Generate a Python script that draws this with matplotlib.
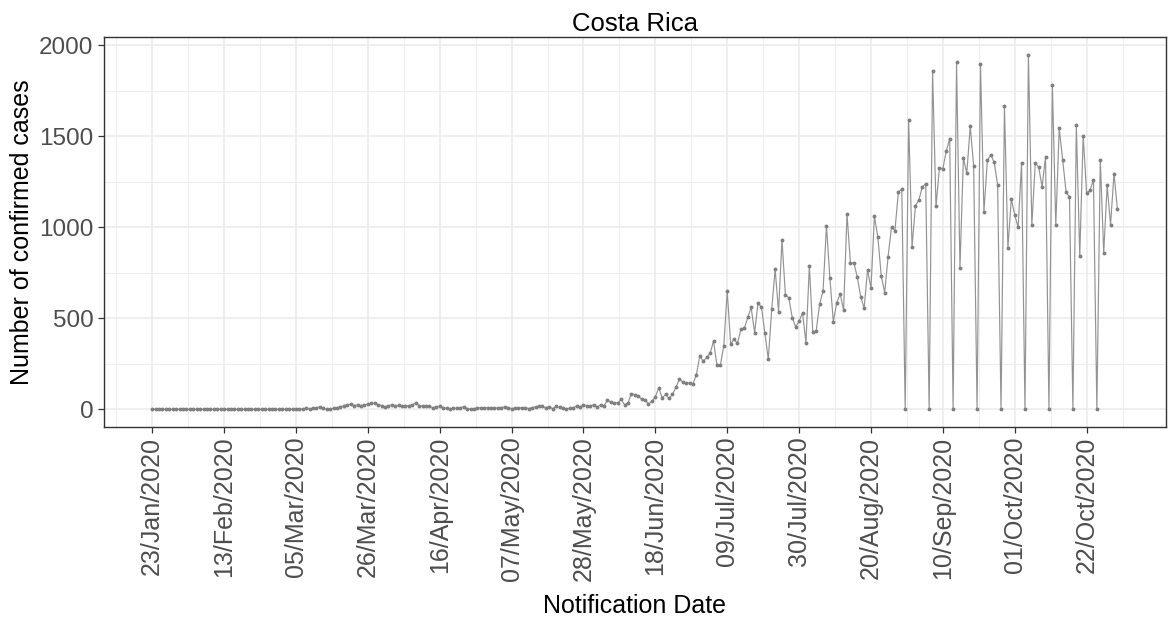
import pandas as pd
import matplotlib
matplotlib.use('Agg')
import matplotlib.pyplot as plt
import matplotlib.dates as mdates

plt.rcParams['font.family'] = ['Liberation Sans', 'DejaVu Sans']

# daily confirmed cases, one list per month (2020, starting 23 Jan)
jan = [0] * 9
feb = [0] * 29
mar = [0, 0, 0, 0, 0, 1, 2, 5, 4, 5, 9, 13, 5, 1, 2, 5, 9, 13, 20, 24,
       28, 20, 24, 20, 24, 28, 33, 32, 26, 20, 13]
apr = [20, 24, 20, 21, 19, 17, 20, 24, 37, 20, 17, 18, 16, 9, 13, 18, 9, 5, 4, 5,
       6, 9, 13, 4, 1, 4, 7, 9, 9, 9]
may = [9, 7, 7, 9, 13, 9, 4, 6, 7, 9, 9, 4, 9, 13, 16, 16, 9, 13, 4, 16,
       10, 5, 3, 5, 8, 18, 12, 25, 18, 20, 22]
jun = [12, 25, 18, 50, 38, 35, 35, 55, 25, 35, 86, 80, 75, 55, 52, 28, 45, 68, 119, 62,
       82, 60, 82, 120, 165, 150, 142, 146, 140, 191]
jul = [294, 264, 285, 307, 375, 242, 242, 349, 650, 358, 384, 362, 439, 444, 505, 560,
       420, 582, 564, 420, 275, 549, 770, 536, 931, 628, 613, 503, 453, 485, 530]
aug = [365, 788, 423, 431, 579, 650, 1008, 720, 481, 586, 634, 545, 1073, 803, 806, 726,
       619, 555, 766, 665, 1060, 949, 733, 641, 839, 1001, 982, 1192, 1212, 0, 1592]
sep = [894, 1118, 1152, 1221, 1240, 0, 1858, 1115, 1326, 1322, 1418, 1488, 0, 1908, 775,
       1381, 1298, 1555, 1339, 0, 1895, 1084, 1368, 1399, 1357, 1234, 0, 1666, 887, 1155]
oct_ = [1069, 999, 1354, 0, 1949, 1010, 1354, 1330, 1222, 1387, 0, 1783, 1014, 1543, 1372,
        1194, 1166, 0, 1561, 843, 1504, 1188, 1203, 1262, 0, 1372, 861, 1230, 1014, 1295, 1102]

cases = jan + feb + mar + apr + may + jun + jul + aug + sep + oct_
dates = pd.date_range('2020-01-23', periods=len(cases), freq='D')

tick_dates = pd.date_range('2020-01-23', periods=14, freq='21D')
minor_dates = tick_dates - pd.Timedelta(hours=252)
minor_dates = minor_dates.append(pd.DatetimeIndex([tick_dates[-1] + pd.Timedelta(hours=252)]))
y_ticks = [0, 500, 1000, 1500, 2000]
y_minor = [250, 750, 1250, 1750]

fig = plt.figure(figsize=(11.68, 6.21), dpi=100)
ax = fig.add_axes([0.089, 0.3124, 0.909, 0.6282])

ax.plot(dates, cases, color='#939393', linewidth=0.85, marker='o', markersize=1.8,
        markerfacecolor='#808080', markeredgecolor='#808080', zorder=3)

# ggplot-style expansion of 5 % on both axes
span = dates[-1] - dates[0]
ax.set_xlim(dates[0] - span * 0.05, dates[-1] + span * 0.05)
ymax = max(cases)
ax.set_ylim(-0.05 * ymax, ymax * 1.05)

ax.set_xticks(tick_dates)
ax.set_xticks(minor_dates, minor=True)
ax.xaxis.set_major_formatter(mdates.DateFormatter('%d/%b/%Y'))
ax.set_yticks(y_ticks)
ax.set_yticks(y_minor, minor=True)

ax.grid(which='major', color='#ebebeb', linewidth=1.1, zorder=0)
ax.grid(which='minor', color='#ebebeb', linewidth=0.6, zorder=0)
ax.set_axisbelow(True)

ax.tick_params(axis='both', which='major', length=4, width=0.9, color='#333333',
               labelcolor='#4d4d4d')
ax.tick_params(axis='y', labelsize=17.5)
ax.tick_params(axis='x', labelsize=18, labelrotation=90, pad=3)
ax.tick_params(axis='both', which='minor', length=0)
for lbl in ax.get_xticklabels():
    lbl.set_ha('center')

for sp in ax.spines.values():
    sp.set_color('#333333')
    sp.set_linewidth(1.0)

ax.set_title('Costa Rica', fontsize=18.5, pad=4)
ax.set_xlabel('Notification Date', fontsize=18, labelpad=9)
ax.set_ylabel('Number of confirmed cases', fontsize=18, labelpad=4)

fig.savefig('out.png', dpi=100)
